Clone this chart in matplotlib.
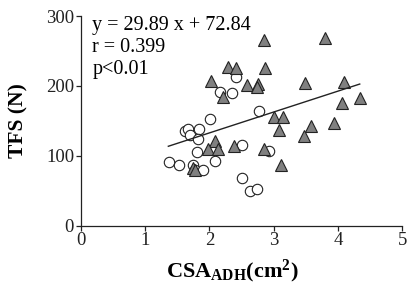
import matplotlib
matplotlib.use("Agg")
import matplotlib.pyplot as plt
import numpy as np

plt.rcParams['font.family'] = ['Liberation Serif', 'DejaVu Serif']
plt.rcParams['mathtext.fontset'] = 'custom'
plt.rcParams['mathtext.rm'] = 'Liberation Serif'
plt.rcParams['mathtext.bf'] = 'Liberation Serif:bold'

# group 1 (grey triangles)
tri_x = [2.85, 3.80, 2.29, 2.41, 2.87, 2.02, 2.59, 2.75, 2.74, 2.21, 3.49, 4.10, 4.34, 4.07,
         3.01, 3.14, 3.08, 3.58, 3.94, 3.48, 2.85, 3.11, 2.09, 1.97, 2.13, 2.39, 1.74, 1.77]
tri_y = [265, 268, 227, 225, 225, 207, 201, 203, 199, 184, 204, 206, 183, 175,
         155, 155, 137, 142, 147, 128, 109, 87, 121, 109, 110, 114, 82, 80]

# group 2 (open circles)
circ_x = [2.42, 2.16, 2.35, 2.77, 2.01, 1.62, 1.67, 1.70, 1.83, 1.82, 1.80,
          2.09, 1.37, 1.53, 1.74, 1.78, 1.90, 2.50, 2.63, 2.74, 2.51, 2.92]
circ_y = [213, 191, 190, 164, 152, 135, 138, 130, 138, 124, 105,
          93, 91, 87, 87, 80, 80, 68, 50, 52, 115, 106]

# regression line
slope, intercept = 29.89, 72.84
line_x = np.array([1.36, 4.34])

fig = plt.figure(figsize=(4.07, 2.91), dpi=100)
ax = fig.add_axes([0.199, 0.225, 0.789, 0.72])

ax.plot(circ_x, circ_y, 'o', ms=7.5, mfc='white', mec='#222222', mew=0.8, zorder=2)
ax.plot(tri_x, tri_y, '^', ms=8.5, mfc='#808080', mec='#222222', mew=0.8, zorder=3)
ax.plot(line_x, slope * line_x + intercept, color='#222222', lw=1.0, zorder=4)

ax.set_xlim(0, 5)
ax.set_ylim(0, 300)
ax.set_xticks([0, 1, 2, 3, 4, 5])
ax.set_yticks([0, 100, 200, 300])
ax.spines['top'].set_visible(False)
ax.spines['right'].set_visible(False)
for s in ['left', 'bottom']:
    ax.spines[s].set_linewidth(0.9)
    ax.spines[s].set_color('#222222')
ax.tick_params(direction='out', length=3.5, width=0.9, labelsize=13.5, pad=1.5, colors='#222222')

ax.text(0.035, 1.0, "y = 29.89 x + 72.84\nr = 0.399\np<0.01", transform=ax.transAxes,
        ha='left', va='top', fontsize=14.5, linespacing=1.2)

ax.set_ylabel("TFS (N)", fontsize=15.5, fontweight='bold')
ax.yaxis.set_label_coords(-0.165, 0.5)
ax.set_xlabel(r"$\mathbf{CSA_{ADH}(cm^2)}$", fontsize=16)
ax.xaxis.set_label_coords(0.47, -0.155)

fig.savefig("out.png", dpi=100)
